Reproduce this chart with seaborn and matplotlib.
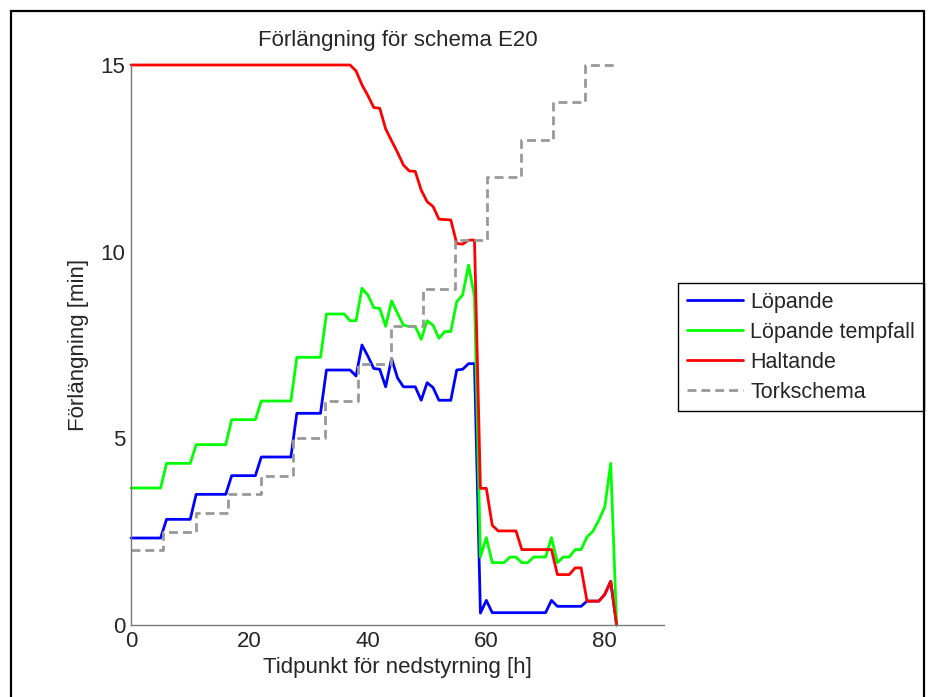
import matplotlib
matplotlib.use('Agg')
import matplotlib.pyplot as plt
from matplotlib.patches import Rectangle
import seaborn as sns
import numpy as np

# timmar 0..82
hours = list(range(83))

lopande = ([2.33]*6 + [2.83]*5 + [3.5]*6 + [4.0]*5 + [4.5]*6 + [5.67]*5 + [6.83]*5 +
           [6.67, 7.5, 7.2, 6.87, 6.85, 6.38, 7.14, 6.62, 6.38, 6.38, 6.38, 6.02, 6.49,
            6.36, 6.02, 6.02, 6.02, 6.83, 6.85, 7.0, 7.0] +
           [0.32, 0.66] + [0.33]*10 + [0.66] + [0.5]*5 + [0.64, 0.64, 0.64, 0.82, 1.17, 0.0])

lopande_tempfall = ([3.67]*6 + [4.33]*5 + [4.83]*6 + [5.5]*5 + [6.0]*6 + [7.17]*5 + [8.33]*4 + [8.15] +
                    [8.15, 9.02, 8.84, 8.5, 8.48, 8.0, 8.68, 8.35, 8.03, 8.0, 8.0, 7.65, 8.15,
                     8.03, 7.68, 7.86, 7.86, 8.66, 8.84, 9.64, 8.8] +
                    [1.82, 2.34, 1.67, 1.67, 1.67, 1.82, 1.82, 1.67, 1.67, 1.82, 1.82, 1.82,
                     2.34, 1.67, 1.82, 1.82, 2.02, 2.02, 2.36, 2.51, 2.81, 3.16, 4.33, 0.0])

haltande = ([15.0]*38 +
            [14.84, 14.47, 14.18, 13.86, 13.84, 13.29, 12.97, 12.66, 12.32, 12.16, 12.15,
             11.65, 11.34, 11.21, 10.87, 10.86, 10.85, 10.22, 10.2, 10.31, 10.31] +
            [3.66, 3.66, 2.67] + [2.52]*4 + [2.02]*6 + [1.35]*3 + [1.53]*2 + [0.64]*3 +
            [0.82, 1.17, 0.0])

# torkschema (trappsteg)
tork_x = [0, 5.4, 10.9, 16.3, 22.0, 27.4, 32.8, 38.3, 43.9, 49.3, 54.7, 60.1, 65.8, 71.2, 76.6, 82.0]
tork_y = [2.0, 2.5, 3.0, 3.5, 4.0, 5.0, 6.0, 7.0, 8.0, 9.0, 10.3, 12.0, 13.0, 14.0, 15.0, 15.0]

sns.set_style('white')
plt.rcParams['font.family'] = ['Liberation Sans', 'DejaVu Sans']

fig = plt.figure(figsize=(9.32, 6.97), dpi=100)
ax = fig.add_axes([131/932, 1 - 625/697, (664 - 131)/932, (625 - 65)/697])

sns.lineplot(x=hours, y=lopande, ax=ax, color=(0, 0, 1), lw=2, label='Löpande', clip_on=False)
sns.lineplot(x=hours, y=lopande_tempfall, ax=ax, color=(0, 1, 0), lw=2, label='Löpande tempfall', clip_on=False)
sns.lineplot(x=hours, y=haltande, ax=ax, color=(1, 0, 0), lw=2, label='Haltande', clip_on=False)
sns.lineplot(x=tork_x, y=tork_y, ax=ax, color=(0.6, 0.6, 0.6), lw=2, label='Torkschema',
             drawstyle='steps-post', linestyle=(0, (3.2, 1.8)), clip_on=False)

ax.set_xlim(0, 90)
ax.set_ylim(0, 15)
ax.set_xticks([0, 20, 40, 60, 80])
ax.set_yticks([0, 5, 10, 15])
ax.tick_params(direction='in', length=5, width=0.8, color='#444444', labelsize=16, pad=4)
for s in ['top', 'right']:
    ax.spines[s].set_visible(False)
for s in ['left', 'bottom']:
    ax.spines[s].set_color('#777777')
    ax.spines[s].set_linewidth(1.0)

ax.set_title('Förlängning för schema E20', fontsize=16, pad=14)
ax.set_xlabel('Tidpunkt för nedstyrning [h]', fontsize=16, labelpad=4)
ax.set_ylabel('Förlängning [min]', fontsize=16, labelpad=8)

leg = ax.legend(loc='upper left', bbox_to_anchor=(678/932, 1 - 283/697), bbox_transform=fig.transFigure,
                borderaxespad=0, fontsize=15.5, frameon=True, fancybox=False, framealpha=1,
                handlelength=2.6, handletextpad=0.35, labelspacing=0.42, borderpad=0.4)
leg.get_frame().set_edgecolor('black')
leg.get_frame().set_linewidth(1.0)

# ram runt figuren
fig.add_artist(Rectangle((10.5/932, -0.05), (924 - 10.5)/932, 1.05 - 11/697, transform=fig.transFigure,
                         fill=False, edgecolor='black', linewidth=1.6))

fig.savefig('out.png', dpi=100)
